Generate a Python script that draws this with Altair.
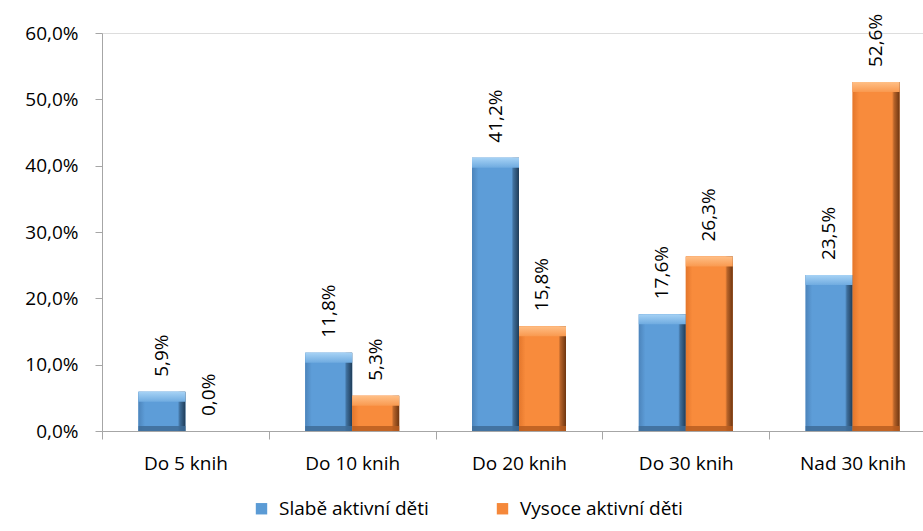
import altair as alt
import pandas as pd

# Number of books read, share of children in each activity group (percent)
categories = ["Do 5 knih", "Do 10 knih", "Do 20 knih", "Do 30 knih", "Nad 30 knih"]
series = ["Slabě aktivní děti", "Vysoce aktivní děti"]
slabe = [5.9, 11.8, 41.2, 17.6, 23.5]
vysoce = [0.0, 5.3, 15.8, 26.3, 52.6]

rows = []
for cat, a, b in zip(categories, slabe, vysoce):
    rows.append({"kat": cat, "skupina": series[0], "hodnota": a})
    rows.append({"kat": cat, "skupina": series[1], "hodnota": b})
df = pd.DataFrame(rows)

FONT = "Open Sans"
FS = 19
AXIS_GRAY = "#a6a6a6"

x_enc = alt.X(
    "kat:N",
    sort=categories,
    title=None,
    scale=alt.Scale(domain=categories, range=[0, 834], paddingInner=0, paddingOuter=0),
    axis=alt.Axis(
        labelAngle=0,
        tickBand="extent",
        tickSize=8,
        labelPadding=15,
        labelFont=FONT,
        labelFontSize=FS,
        labelColor="#000000",
        domainColor=AXIS_GRAY,
        tickColor=AXIS_GRAY,
    ),
)
xoff_enc = alt.XOffset(
    "skupina:N",
    sort=series,
    scale=alt.Scale(domain=series, paddingInner=0, paddingOuter=0.7745),
)
y_scale = alt.Scale(domain=[0, 60], nice=False)
y_enc = alt.Y(
    "hodnota:Q",
    scale=y_scale,
    title=None,
    axis=alt.Axis(
        values=[0, 10, 20, 30, 40, 50, 60],
        labelExpr="replace(format(datum.value, '.1f'), '.', ',') + '%'",
        grid=False,
        tickSize=7,
        labelPadding=17,
        labelFont=FONT,
        labelFontSize=FS,
        labelColor="#000000",
        domainColor=AXIS_GRAY,
        tickColor=AXIS_GRAY,
    ),
)

base = alt.Chart(df).encode(x=x_enc, xOffset=xoff_enc)

# Plain bars carry the legend
legend_bars = base.mark_bar().encode(
    y=y_enc,
    y2=alt.datum(0),
    color=alt.Color(
        "skupina:N",
        sort=series,
        scale=alt.Scale(domain=series, range=["#5b9bd5", "#f5883a"]),
        legend=alt.Legend(
            title=None,
            orient="none",
            direction="horizontal",
            legendX=150,
            legendY=466,
            symbolType="square",
            symbolSize=130,
            symbolStrokeWidth=0,
            symbolOffset=0,
            labelFont=FONT,
            labelFontSize=FS,
            labelColor="#000000",
            labelOffset=8,
            labelLimit=400,
            columnPadding=64,
        ),
    ),
)

palettes = {
    series[0]: {
        "side": [("#4c84bb", 0), ("#5d9dd8", 0.14), ("#5d9dd8", 0.84), ("#3f6f9c", 0.88), ("#1f3c58", 1)],
        "cap": ("#a6d2f5", "#6fabe0"),
        "bottom": "#3e6c98",
    },
    series[1]: {
        "side": [("#e4772c", 0), ("#f88b3c", 0.14), ("#f88b3c", 0.84), ("#b8642a", 0.88), ("#6e3510", 1)],
        "cap": ("#ffbf86", "#f9994f"),
        "bottom": "#b85d20",
    },
}

layers = [legend_bars]
for s in series:
    p = palettes[s]
    sel = base.transform_filter(alt.datum.skupina == s)
    body = sel.mark_bar(
        color=alt.Gradient(
            gradient="linear", x1=0, x2=1, y1=0, y2=0,
            stops=[alt.GradientStop(color=c, offset=o) for c, o in p["side"]],
        )
    ).encode(y=y_enc, y2=alt.datum(0))
    cap = sel.transform_filter(alt.datum.hodnota > 0).mark_bar(
        y2Offset=10,
        color=alt.Gradient(
            gradient="linear", x1=0, x2=0, y1=0, y2=1,
            stops=[alt.GradientStop(color=p["cap"][0], offset=0),
                   alt.GradientStop(color=p["cap"][1], offset=1)],
        ),
    ).encode(y=y_enc, y2="hodnota:Q")
    bottom = sel.transform_filter(alt.datum.hodnota > 0).mark_bar(
        yOffset=-5, color=p["bottom"], opacity=0.85
    ).encode(y=alt.Y("zero:Q", scale=y_scale), y2=alt.datum(0)).transform_calculate(zero="0")
    layers += [body, cap, bottom]

labels = base.transform_calculate(
    popis="replace(format(datum.hodnota, '.1f'), '.', ',') + '%'"
).mark_text(
    angle=270, align="left", baseline="middle", yOffset=-15,
    font=FONT, fontSize=FS, color="#000000",
).encode(y=alt.Y("hodnota:Q", scale=y_scale), text="popis:N")
layers.append(labels)

chart = alt.layer(*layers).properties(
    width=821,
    height=398,
    autosize=alt.AutoSizeParams(type="none"),
    padding={"left": 102, "top": 33, "right": 0, "bottom": 100},
).configure_view(stroke=None).configure(background="#ffffff")

chart.save("out.html", embed_options={"renderer": "svg", "actions": False})
